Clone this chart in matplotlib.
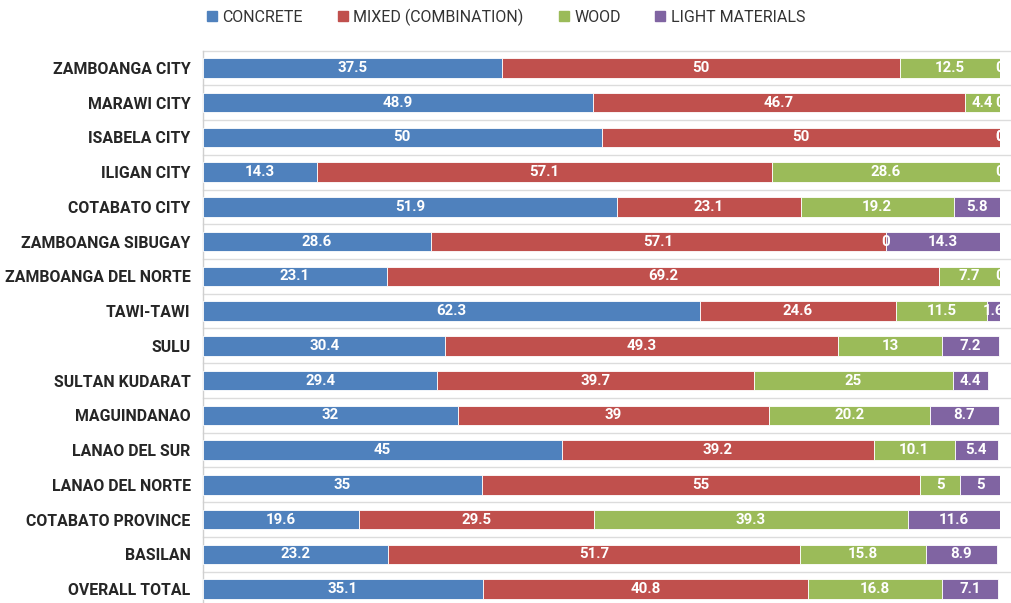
import matplotlib
matplotlib.use("Agg")
import matplotlib.pyplot as plt
from matplotlib.lines import Line2D
import numpy as np

categories = [
    "ZAMBOANGA CITY", "MARAWI CITY", "ISABELA CITY", "ILIGAN CITY",
    "COTABATO CITY", "ZAMBOANGA SIBUGAY", "ZAMBOANGA DEL NORTE", "TAWI-TAWI",
    "SULU", "SULTAN KUDARAT", "MAGUINDANAO", "LANAO DEL SUR",
    "LANAO DEL NORTE", "COTABATO PROVINCE", "BASILAN", "OVERALL TOTAL",
]
series_names = ["CONCRETE", "MIXED (COMBINATION)", "WOOD", "LIGHT MATERIALS"]
concrete = [37.5, 48.9, 50, 14.3, 51.9, 28.6, 23.1, 62.3, 30.4, 29.4, 32, 45, 35, 19.6, 23.2, 35.1]
mixed = [50, 46.7, 50, 57.1, 23.1, 57.1, 69.2, 24.6, 49.3, 39.7, 39, 39.2, 55, 29.5, 51.7, 40.8]
wood = [12.5, 4.4, 0, 28.6, 19.2, 0, 7.7, 11.5, 13, 25, 20.2, 10.1, 5, 39.3, 15.8, 16.8]
light = [0, 0, 0, 0, 5.8, 14.3, 0, 1.6, 7.2, 4.4, 8.7, 5.4, 5, 11.6, 8.9, 7.1]
colors = ["#4F81BD", "#C0504D", "#9BBB59", "#8064A2"]

W, H = 1011, 603
fig = plt.figure(figsize=(W / 100, H / 100), dpi=100)
ax_left, ax_right, ax_top = 203, 1000, 50.6
ax = fig.add_axes([ax_left / W, 0, (ax_right - ax_left) / W, 1 - ax_top / H])

n = len(categories)
y = np.arange(n)
left = np.zeros(n)
for name, vals, col in zip(series_names, [concrete, mixed, wood, light], colors):
    vals = np.array(vals, dtype=float)
    ax.barh(y, vals, left=left, height=0.56, color=col, edgecolor="white",
            linewidth=0.6, label=name, zorder=3)
    for yi, (l, v) in enumerate(zip(left, vals)):
        ax.text(l + v / 2, yi, f"{v:g}", ha="center", va="center",
                color="white", fontsize=10.8, fontweight="bold",
                family="Roboto", zorder=4, clip_on=True)
    left += vals

ax.set_xlim(0, 100)
row_px = (589 - 68.5) / 15
bottom_lim = (H - 68.5) / row_px
ax.set_ylim(bottom_lim, -0.5)

# row separators running out to the figure edge
x_end = 100 * (W - ax_left) / (ax_right - ax_left)
for b in np.arange(-0.5, n, 1.0):
    ax.plot([0, x_end], [b, b], color="#dcdcdc", lw=1.0, zorder=1, clip_on=False)

for s in ["top", "right", "bottom"]:
    ax.spines[s].set_visible(False)
ax.spines["left"].set_color("#cfcfcf")
ax.spines["left"].set_linewidth(1.0)
ax.set_xticks([])
ax.set_yticks(y)
ax.set_yticklabels(categories, fontsize=11.4, fontweight="bold",
                   family="Roboto", color="#262626")
ax.tick_params(axis="y", length=0, pad=9)

handles = [Line2D([], [], marker="s", linestyle="none", markersize=7.5,
                  markerfacecolor=c, markeredgecolor=c) for c in colors]
fig.legend(handles, series_names, loc="center", bbox_to_anchor=(0.5, 1 - 17 / H),
           ncol=4, frameon=False, handlelength=0.8, handletextpad=0.25,
           columnspacing=2.1, prop={"family": "Roboto", "size": 11.5},
           labelcolor="#333333")

fig.savefig("out.png", dpi=100)
